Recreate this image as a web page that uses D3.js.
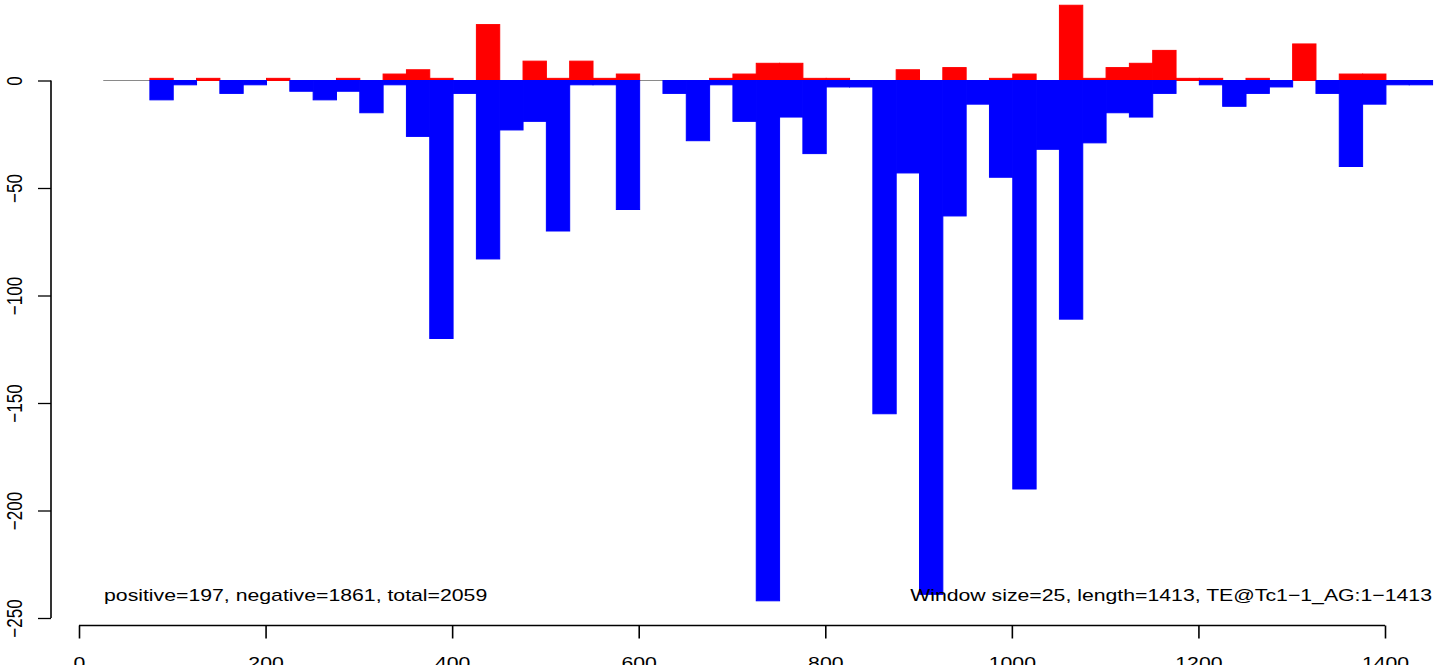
<!DOCTYPE html>
<html>
<head>
<meta charset="utf-8">
<script src="https://cdn.jsdelivr.net/npm/d3@7"></script>
<style>
  html, body { margin: 0; padding: 0; background: #fff; }
  svg { display: block; }
  text { font-family: "Liberation Sans", Arial, Helvetica, sans-serif; }
</style>
</head>
<body>
<svg id="chart" width="1444" height="665"></svg>
<script>
// ---- data ----
const windowSize = 25;
const seqLength = 1413;
const firstWindowStart = 26;
const positiveCounts = [0,0,1,0,1,0,0,1,0,0,1,0,3,5,1,0,26,0,9,1,9,1,3,0,0,0,1,3,8,8,1,1,0,0,5,0,6,0,1,3,0,35,1,6,8,14,1,1,0,1,0,17,0,3,3,0,0];
const negativeCounts = [0,0,-9,-2,0,-6,-2,0,-5,-9,-5,-15,-2,-26,-120,-6,-83,-23,-19,-70,-2,-2,-60,0,-6,-28,-2,-19,-242,-17,-34,-3,-3,-155,-43,-239,-63,-11,-45,-190,-32,-111,-29,-15,-17,-6,0,-2,-12,-6,-3,0,-6,-40,-11,-2,-2];
const xTicks = [0,200,400,600,800,1000,1200,1400];
const yTicks = [0,-50,-100,-150,-200,-250];
const leftNote = "positive=197, negative=1861, total=2059";
const rightNote = "Window size=25, length=1413, TE@Tc1\u22121_AG:1\u22121413";

// ---- layout ----
const svg = d3.select("#chart");
const x = d3.scaleLinear().domain([0, 1400]).range([79, 1385]);
const y = d3.scaleLinear().domain([-250, 0]).range([618, 80.5]);
const stretch = 1.25; // horizontal stretch of the glyphs seen in the reference

const windows = positiveCounts.map((p, i) => ({
  start: firstWindowStart + i * windowSize,
  pos: p,
  neg: negativeCounts[i]
}));

// baseline
const lastEnd = windows[windows.length - 1].start + windowSize;
svg.append("line")
  .attr("x1", x(firstWindowStart)).attr("x2", x(lastEnd))
  .attr("y1", y(0)).attr("y2", y(0))
  .attr("stroke", "#8a8a8a").attr("stroke-width", 1);

// positive bars (red)
svg.append("g").selectAll("rect")
  .data(windows.filter(d => d.pos > 0))
  .join("rect")
  .attr("x", d => x(d.start))
  .attr("width", d => x(d.start + windowSize) - x(d.start))
  .attr("y", d => y(d.pos))
  .attr("height", d => y(0) - y(d.pos))
  .attr("fill", "#ff0000")
  .attr("stroke", "#ff0000").attr("stroke-width", 1);

// negative bars (blue)
svg.append("g").selectAll("rect")
  .data(windows.filter(d => d.neg < 0))
  .join("rect")
  .attr("x", d => x(d.start))
  .attr("width", d => x(d.start + windowSize) - x(d.start))
  .attr("y", y(0))
  .attr("height", d => y(d.neg) - y(0))
  .attr("fill", "#0000ff")
  .attr("stroke", "#0000ff").attr("stroke-width", 1);

// x axis
const fmt = v => String(v).replace("-", "\u2212");
const xAxis = svg.append("g")
  .attr("transform", "translate(0,625.5)")
  .call(d3.axisBottom(x).tickValues(xTicks).tickSize(13).tickFormat(fmt));
xAxis.select(".domain").attr("stroke", "#000").attr("stroke-width", 1.3)
  .attr("d", `M${x(0)},0H${x(1400)}`);
xAxis.selectAll(".tick line").attr("stroke", "#000").attr("stroke-width", 1.6);
xAxis.selectAll(".tick text").attr("font-size", 17).attr("fill", "#000")
  .attr("font-family", "Liberation Sans, Arial, sans-serif")
  .attr("y", null).attr("dy", null)
  .attr("transform", `translate(0,43) scale(${stretch},1)`);

// y axis
const yAxis = svg.append("g")
  .attr("transform", "translate(51,0)")
  .call(d3.axisLeft(y).tickValues(yTicks).tickSize(13).tickFormat(fmt));
yAxis.select(".domain").attr("stroke", "#000").attr("stroke-width", 1.6)
  .attr("d", `M0,${y(-250)}V${y(0)}`);
yAxis.selectAll(".tick line").attr("stroke", "#000").attr("stroke-width", 1.3);
yAxis.selectAll(".tick text")
  .attr("font-size", 17).attr("fill", "#000")
  .attr("font-family", "Liberation Sans, Arial, sans-serif")
  .attr("x", null).attr("dy", null)
  .attr("text-anchor", "middle")
  .attr("transform", `translate(-29,0) scale(${stretch},1) rotate(-90)`);

// notes
svg.append("g")
  .attr("transform", `translate(104,600.5) scale(${stretch},1)`)
  .append("text")
  .attr("font-size", 17).attr("fill", "#000")
  .text(leftNote);
svg.append("g")
  .attr("transform", `translate(1432,600.5) scale(${stretch},1)`)
  .append("text")
  .attr("text-anchor", "end")
  .attr("font-size", 17).attr("fill", "#000")
  .text(rightNote);
</script>
</body>
</html>
